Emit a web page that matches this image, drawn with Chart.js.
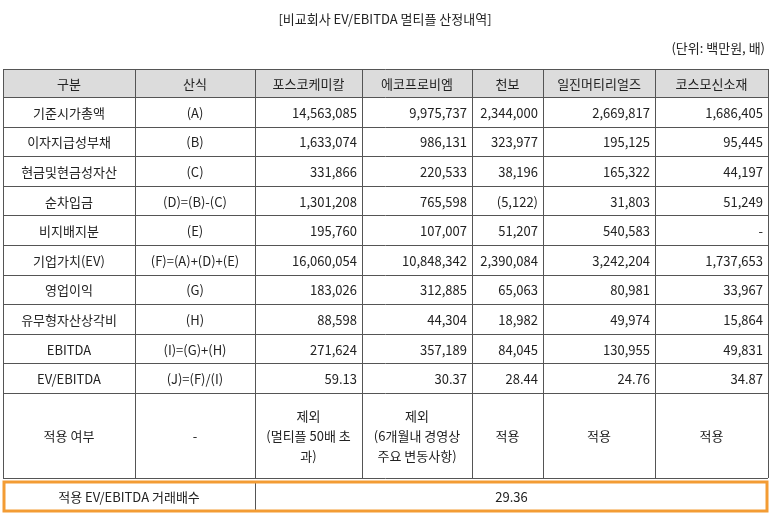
<!DOCTYPE html>
<html><head><meta charset="utf-8">
<script src="https://cdn.jsdelivr.net/npm/chart.js@4"></script>
<style>html,body{margin:0;padding:0;background:#fff}canvas{display:block}</style>
</head><body>
<canvas id="c" width="773" height="521"></canvas>
<script>
const title = "[비교회사 EV/EBITDA 멀티플 산정내역]";
const unit = "(단위: 백만원, 배)";
const headers = ["구분","산식","포스코케미칼","에코프로비엠","천보","일진머티리얼즈","코스모신소재"];
const rowLabels = ["기준시가총액","이자지급성부채","현금및현금성자산","순차입금","비지배지분","기업가치(EV)","영업이익","유무형자산상각비","EBITDA","EV/EBITDA"];
const formulas = ["(A)","(B)","(C)","(D)=(B)-(C)","(E)","(F)=(A)+(D)+(E)","(G)","(H)","(I)=(G)+(H)","(J)=(F)/(I)"];
const posco = ["14,563,085","1,633,074","331,866","1,301,208","195,760","16,060,054","183,026","88,598","271,624","59.13"];
const ecopro = ["9,975,737","986,131","220,533","765,598","107,007","10,848,342","312,885","44,304","357,189","30.37"];
const chunbo = ["2,344,000","323,977","38,196","(5,122)","51,207","2,390,084","65,063","18,982","84,045","28.44"];
const iljin = ["2,669,817","195,125","165,322","31,803","540,583","3,242,204","80,981","49,974","130,955","24.76"];
const cosmo = ["1,686,405","95,445","44,197","51,249","-","1,737,653","33,967","15,864","49,831","34.87"];
const applyRow = ["적용 여부","-","제외\n(멀티플 50배 초\n과)","제외\n(6개월내 경영상\n주요 변동사항)","적용","적용","적용"];
const finalLabel = "적용 EV/EBITDA 거래배수";
const finalValue = "29.36";

const colX = [3,135,255,362,472,543,655,768];
const font = "13px 'Noto Sans CJK KR', 'Noto Sans', sans-serif";

const tablePlugin = {
  id:'table',
  afterDraw(chart){
    const ctx = chart.ctx;
    ctx.save();
    ctx.fillStyle="#fff"; ctx.fillRect(0,0,773,521);
    ctx.font=font; ctx.fillStyle="#222"; ctx.textBaseline="middle";
    ctx.textAlign="center"; ctx.fillText(title,385,19);
    ctx.textAlign="right"; ctx.fillText(unit,765,48);
    const top=69, hH=28, rH=29.6;
    const rowsY=[top, top+hH];
    for(let i=0;i<rowLabels.length;i++) rowsY.push(top+hH+rH*(i+1));
    const applyBottom = 478;
    rowsY.push(applyBottom);
    // header bg
    ctx.fillStyle="#dcdcdc"; ctx.fillRect(colX[0],top,colX[7]-colX[0],hH);
    // lines
    ctx.strokeStyle="#555"; ctx.lineWidth=1;
    ctx.beginPath();
    rowsY.forEach(y=>{ctx.moveTo(colX[0],Math.round(y)+0.5);ctx.lineTo(colX[7],Math.round(y)+0.5);});
    colX.forEach(x=>{ctx.moveTo(x+0.5,top);ctx.lineTo(x+0.5,applyBottom);});
    ctx.stroke();
    ctx.fillStyle="#222";
    const cc=i=>(colX[i]+colX[i+1])/2;
    ctx.textAlign="center";
    headers.forEach((h,i)=>ctx.fillText(h,cc(i),top+hH/2+1));
    const cols=[posco,ecopro,chunbo,iljin,cosmo];
    for(let r=0;r<rowLabels.length;r++){
      const y=(rowsY[r+1]+rowsY[r+2])/2+1;
      ctx.textAlign="center";
      ctx.fillText(rowLabels[r],cc(0),y);
      ctx.fillText(formulas[r],cc(1),y);
      ctx.textAlign="right";
      cols.forEach((c,k)=>ctx.fillText(c[r],colX[k+3]-5,y));
    }
    const aTop=rowsY[rowsY.length-2], aMid=(aTop+applyBottom)/2;
    ctx.textAlign="center";
    applyRow.forEach((t,i)=>{
      const lines=t.split("\n"); const lh=20;
      lines.forEach((l,j)=>ctx.fillText(l,cc(i),aMid+(j-(lines.length-1)/2)*lh+1));
    });
    // final row
    const fTop=482, fBot=511;
    ctx.beginPath();
    ctx.moveTo(colX[2]+0.5,fTop);ctx.lineTo(colX[2]+0.5,fBot);ctx.stroke();
    ctx.fillText(finalLabel,(colX[0]+colX[2])/2,(fTop+fBot)/2+1);
    ctx.fillText(finalValue,(colX[2]+colX[7])/2,(fTop+fBot)/2+1);
    ctx.strokeStyle="#f39c34"; ctx.lineWidth=3;
    ctx.strokeRect(colX[0]+1,fTop,colX[7]-colX[0]-2,fBot-fTop);
    ctx.restore();
  }
};
new Chart(document.getElementById('c'),{
  type:'bar',
  data:{labels:headers.slice(2),datasets:[{data:[],label:title}]},
  options:{responsive:false,animation:false,events:[],
    plugins:{legend:{display:false},tooltip:{enabled:false}},
    scales:{x:{display:false},y:{display:false}}},
  plugins:[tablePlugin]
});
</script>
</body></html>
